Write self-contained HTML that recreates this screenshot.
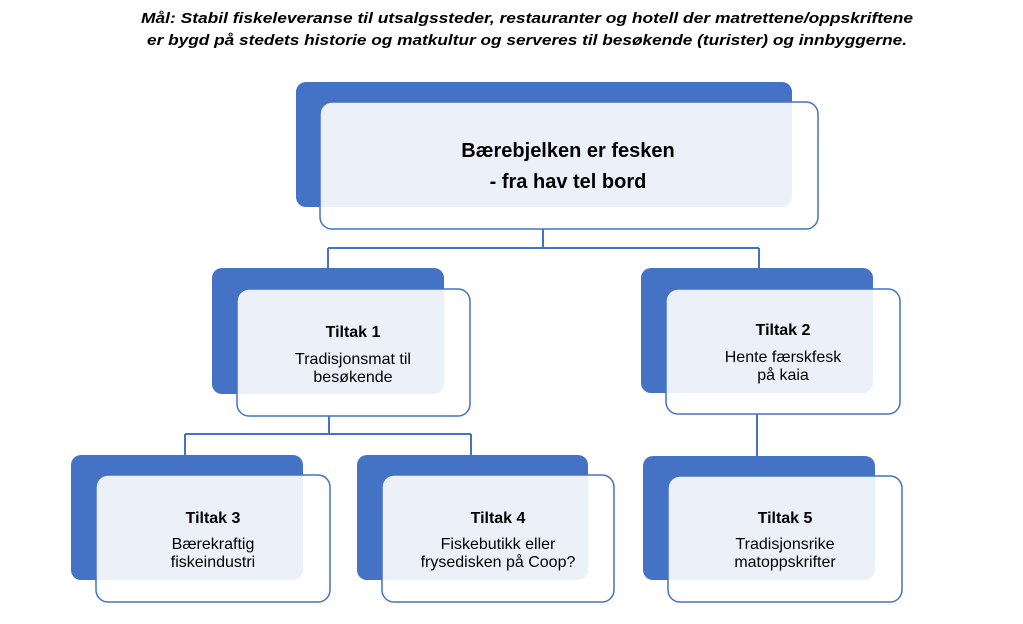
<!DOCTYPE html>
<html><head><meta charset="utf-8"><style>
html,body{margin:0;padding:0;background:#fff;}
svg{display:block;}
text{font-family:"Liberation Sans",sans-serif;fill:#000;}
</style></head><body>
<svg width="1023" height="624" viewBox="0 0 1023 624" xmlns="http://www.w3.org/2000/svg">
<text x="527" y="23" text-anchor="middle" font-size="15" font-weight="bold" font-style="italic" textLength="772" lengthAdjust="spacingAndGlyphs">Mål: Stabil fiskeleveranse til utsalgssteder, restauranter og hotell der matrettene/oppskriftene</text>
<text x="527" y="45" text-anchor="middle" font-size="15" font-weight="bold" font-style="italic" textLength="760" lengthAdjust="spacingAndGlyphs">er bygd på stedets historie og matkultur og serveres til besøkende (turister) og innbyggerne.</text>
<g fill="none" stroke="#4472c4" stroke-width="2">
<path d="M543 229V248M328 248H759M328 248V268M759 248V268"/>
<path d="M329 416V434M185 434H471M185 434V455M471 434V455"/>
<path d="M757 414V456"/>
</g>
<g fill="#4472c4">
<rect x="296" y="82" width="496" height="125" rx="10"/>
<rect x="212" y="268" width="232" height="126" rx="10"/>
<rect x="641" y="268" width="232" height="125" rx="10"/>
<rect x="71" y="455" width="232" height="125" rx="10"/>
<rect x="357" y="455" width="231" height="125" rx="10"/>
<rect x="643" y="456" width="232" height="124" rx="10"/>
</g>
<g fill="#ffffff" fill-opacity="0.9" stroke="#4472c4" stroke-width="1.5">
<rect x="320" y="102" width="498" height="127" rx="12"/>
<rect x="237" y="289" width="233" height="127" rx="12"/>
<rect x="666" y="289" width="234" height="125" rx="12"/>
<rect x="96" y="475" width="234" height="127" rx="12"/>
<rect x="382" y="475" width="232" height="127" rx="12"/>
<rect x="668" y="476" width="234" height="126" rx="12"/>
</g>
<g text-anchor="middle">
<text x="568" y="157" font-size="20" font-weight="bold">Bærebjelken er fesken</text>
<text x="568" y="188" font-size="20" font-weight="bold">- fra hav tel bord</text>
<text x="353" y="337" font-size="16" font-weight="bold">Tiltak 1</text>
<text x="353" y="364" font-size="16">Tradisjonsmat til</text>
<text x="353" y="382" font-size="16">besøkende</text>
<text x="783" y="335" font-size="16" font-weight="bold">Tiltak 2</text>
<text x="783" y="362" font-size="16">Hente færskfesk</text>
<text x="783" y="380" font-size="16">på kaia</text>
<text x="213" y="523" font-size="16" font-weight="bold">Tiltak 3</text>
<text x="213" y="549" font-size="16">Bærekraftig</text>
<text x="213" y="567" font-size="16">fiskeindustri</text>
<text x="498" y="523" font-size="16" font-weight="bold">Tiltak 4</text>
<text x="498" y="549" font-size="16">Fiskebutikk eller</text>
<text x="498" y="567" font-size="16">frysedisken på Coop?</text>
<text x="785" y="523" font-size="16" font-weight="bold">Tiltak 5</text>
<text x="785" y="549" font-size="16">Tradisjonsrike</text>
<text x="785" y="567" font-size="16">matoppskrifter</text>
</g>
</svg>
</body></html>
